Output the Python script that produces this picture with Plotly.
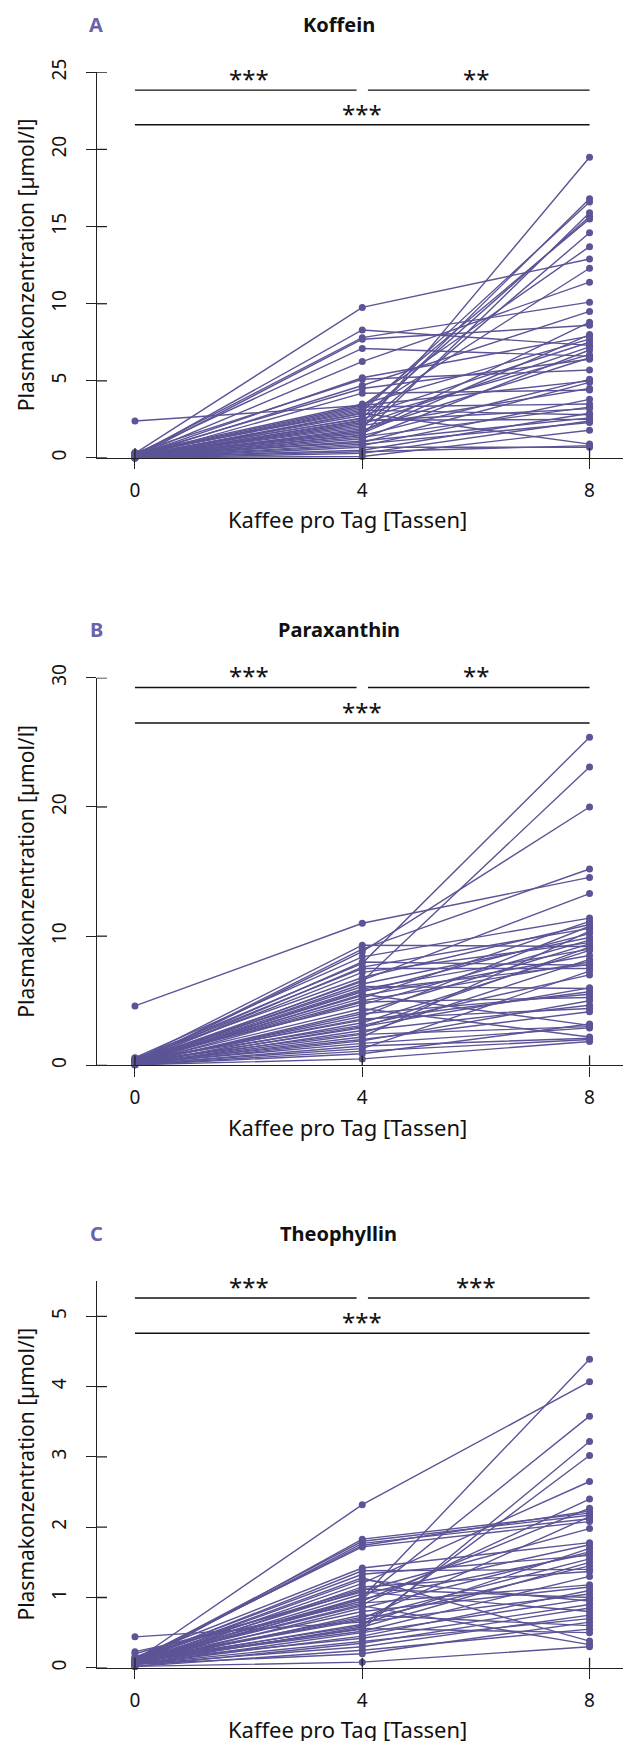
import plotly.graph_objects as go

# ---------------- data ----------------
cups = [0, 4, 8]

koffein_0 = [2.4, 0.3, 0.1, 0.2, 0.05, 0.25, 0.1, 0.15, 0.35, 0.1, 0.2, 0.05, 0.0, 0.1, 0.3, 0.05,
             0.15, 0.2, 0.1, 0.25, 0.05, 0.1, 0.3, 0.15, 0.1, 0.0, 0.2, 0.1, 0.05, 0.15, 0.1, 0.05,
             0.2, 0.0, 0.1, 0.05, 0.25, 0.05, 0.1, 0.0, 0.05, 0.02, 0.15, 0.05, 0.02, 0.1]
koffein_4 = [3.4, 9.76, 8.3, 7.8, 7.7, 7.1, 6.25, 5.2, 5.1, 4.7, 4.5, 4.2, 1.9, 2.3, 3.0, 1.5,
             2.6, 3.2, 2.0, 3.4, 2.9, 1.7, 3.5, 2.75, 2.2, 1.25, 2.55, 1.8, 1.45, 1.0, 2.1, 0.8,
             3.3, 1.35, 2.4, 0.5, 3.1, 1.1, 2.45, 0.3, 0.9, 0.1, 2.9, 0.4, 0.7, 1.6]
koffein_8 = [5.0, 12.9, 7.3, 10.1, 8.6, 6.6, 11.4, 7.9, 5.7, 9.5, 6.4, 4.4, 19.5, 16.8, 16.6, 15.9,
             15.65, 15.5, 14.6, 13.7, 12.3, 8.8, 7.7, 7.5, 7.2, 7.0, 6.7, 6.5, 5.1, 4.9, 4.5, 3.8,
             3.5, 3.3, 3.2, 2.9, 2.8, 2.6, 2.5, 2.4, 2.3, 1.8, 0.9, 0.8, 0.7, 8.0]

paraxanthin_0 = [4.6, 0.5, 0.3, 0.2, 0.4, 0.2, 0.6, 0.3, 0.2, 0.45, 0.1, 0.2, 0.35, 0.2, 0.1, 0.3,
                 0.25, 0.1, 0.5, 0.2, 0.1, 0.2, 0.3, 0.1, 0.4, 0.2, 0.05, 0.3, 0.1, 0.2, 0.15, 0.1,
                 0.05, 0.05, 0.3, 0.25, 0.1, 0.2, 0.1, 0.05, 0.55, 0.3, 0.2, 0.1, 0.1, 0.05]
paraxanthin_4 = [11.0, 7.9, 6.5, 8.8, 9.3, 9.0, 8.4, 8.0, 7.6, 7.5, 6.6, 6.3, 6.1, 5.7, 5.5, 5.4,
                 5.2, 4.9, 4.7, 4.4, 4.15, 3.8, 3.5, 3.3, 3.1, 2.9, 2.7, 2.5, 2.2, 2.0, 1.7, 1.3,
                 1.1, 0.5, 5.9, 5.0, 4.0, 3.6, 2.4, 1.5, 6.8, 7.2, 5.8, 3.0, 1.9, 0.9]
paraxanthin_8 = [14.55, 25.4, 23.1, 20.0, 9.2, 15.2, 11.4, 7.75, 10.6, 7.5, 13.3, 9.9, 5.95, 10.2, 3.1, 8.5,
                 11.15, 5.25, 9.7, 2.2, 9.4, 10.77, 5.7, 8.9, 7.0, 9.15, 4.65, 8.2, 10.4, 4.15, 2.9, 7.3,
                 2.0, 1.85, 9.0, 8.0, 5.5, 4.4, 3.0, 2.1, 10.9, 9.5, 7.8, 6.0, 5.0, 3.2]

theophyllin_0 = [0.1, 0.05, 0.1, 0.08, 0.1, 0.12, 0.1, 0.05, 0.1, 0.1, 0.08, 0.1, 0.15, 0.1, 0.12, 0.1,
                 0.05, 0.1, 0.08, 0.1, 0.05, 0.1, 0.44, 0.1, 0.05, 0.1, 0.05, 0.02, 0.05, 0.02, 0.23, 0.1,
                 0.1, 0.08, 0.05, 0.1, 0.05, 0.15, 0.1, 0.12, 0.05, 0.02, 0.05, 0.1, 0.2, 0.08]
theophyllin_4 = [2.32, 1.83, 1.8, 1.77, 1.74, 1.72, 1.0, 0.98, 0.55, 0.6, 1.2, 0.9, 1.42, 1.38, 1.33, 1.28,
                 1.15, 1.1, 1.05, 0.95, 0.85, 0.8, 0.65, 0.72, 0.5, 0.42, 0.38, 0.25, 0.2, 0.08, 0.92, 0.88,
                 0.7, 0.62, 0.58, 0.52, 0.45, 1.12, 1.25, 0.98, 0.75, 0.35, 0.3, 0.68, 1.08, 0.56]
theophyllin_8 = [4.07, 2.2, 2.17, 2.12, 2.23, 2.08, 4.39, 3.58, 3.22, 3.02, 2.65, 2.4, 1.78, 1.4, 1.6, 0.38,
                 1.37, 1.98, 1.75, 2.27, 1.65, 1.15, 1.05, 1.55, 0.98, 0.9, 0.7, 0.55, 0.65, 0.3, 1.18, 0.33,
                 2.15, 1.7, 1.5, 1.3, 1.1, 1.0, 0.95, 1.62, 0.6, 0.85, 0.75, 1.45, 0.8, 0.5]

panel_letters = ["A", "B", "C"]
panel_titles = ["Koffein", "Paraxanthin", "Theophyllin"]
y_ranges = [[0, 25], [0, 30], [0, 5.5]]
y_ticks = [[0, 5, 10, 15, 20, 25], [0, 10, 20, 30], [0, 1, 2, 3, 4, 5]]
x_ticks = [0, 4, 8]

# significance brackets: (x start, x end, label x)
sig_pairs = [(0, 3.9, 2), (4.1, 8, 6), (0, 8, 4)]
sig_labels = [["***", "**", "***"], ["***", "**", "***"], ["***", "***", "***"]]
sig_levels = [[23.85, 23.85, 21.6], [29.25, 29.25, 26.5], [5.26, 5.26, 4.76]]

x_title = "Kaffee pro Tag [Tassen]"
y_title = "Plasmakonzentration [µmol/l]"

series = [
    (koffein_0, koffein_4, koffein_8),
    (paraxanthin_0, paraxanthin_4, paraxanthin_8),
    (theophyllin_0, theophyllin_4, theophyllin_8),
]

# ---------------- styling / layout ----------------
W, H = 631, 1741
PURPLE = "#5b5496"
LETTER = "#6b63a8"
AX = "#222222"
FONT = "Noto Sans"


# wanted positions are given in page pixels; convert to figure pixels
def fx(x):
    return x - 7.5


def fy(y):
    return (y - 19.6) / 0.9912


LEFT = fx(96)
PW = W - LEFT
X0_PX, X8_PX = fx(134), fx(589)
ppu = (X8_PX - X0_PX) / 8.0
x_range = [-(X0_PX - LEFT) / ppu, (W - X0_PX) / ppu]

tops = [70, 676, 1280]
bottoms = [456, 1064, 1667]

fig = go.Figure()
shapes = []
annotations = []
layout = {}


def px_to_paper_x(x):
    return (x - LEFT) / PW


def px_to_paper_y(y):
    return (H - y) / H


for i in range(3):
    n = "" if i == 0 else str(i + 1)
    xa, ya = "x" + n, "y" + n
    v0, v4, v8 = series[i]
    xs, ys = [], []
    for a, b, c in zip(v0, v4, v8):
        xs += cups + [None]
        ys += [a, b, c, None]
    fig.add_trace(go.Scatter(
        x=xs, y=ys, xaxis=xa, yaxis=ya, mode="lines+markers",
        line=dict(color=PURPLE, width=1.4),
        marker=dict(color=PURPLE, size=7),
        cliponaxis=False, showlegend=False, hoverinfo="skip"))

    dom = [px_to_paper_y(fy(bottoms[i])), px_to_paper_y(fy(tops[i]))]
    layout["xaxis" + n] = dict(
        domain=[0, 1], range=x_range, anchor=ya, tickvals=x_ticks,
        ticks="outside", ticklen=10, tickwidth=1.3, tickcolor=AX,
        showline=True, linecolor=AX, linewidth=1.3, showgrid=False, zeroline=False,
        tickfont=dict(size=19, color="#111", family=FONT), ticklabelstandoff=5,
    )
    layout["yaxis" + n] = dict(
        domain=dom, range=y_ranges[i], anchor=xa, tickvals=y_ticks[i], tickangle=-90,
        ticks="outside", ticklen=10, tickwidth=1.3, tickcolor=AX,
        showline=True, linecolor=AX, linewidth=1.3, showgrid=False, zeroline=False,
        tickfont=dict(size=19, color="#111", family=FONT), ticklabelstandoff=12,
    )
    # inner halves of the crossing tick marks
    for v in x_ticks:
        shapes.append(dict(type="line", xref=xa, yref=ya + " domain", x0=v, x1=v,
                           ysizemode="pixel", yanchor=0, y0=0, y1=10,
                           line=dict(color=AX, width=1.3)))
    for v in y_ticks[i]:
        shapes.append(dict(type="line", yref=ya, xref=xa + " domain", y0=v, y1=v,
                           xsizemode="pixel", xanchor=0, x0=0, x1=10,
                           line=dict(color=AX, width=1.3)))
    # significance brackets
    for (xs0, xs1, xm), lab, lev in zip(sig_pairs, sig_labels[i], sig_levels[i]):
        shapes.append(dict(type="line", xref=xa, yref=ya, x0=xs0, x1=xs1, y0=lev, y1=lev,
                           line=dict(color="#111", width=1.4)))
        annotations.append(dict(xref=xa, yref=ya, x=xm, y=lev, text=lab, showarrow=False,
                                yanchor="middle", yshift=11.5,
                                font=dict(size=24, color="#111", family=FONT)))
    # panel letter and title
    ty = px_to_paper_y(fy(tops[i] - 48))
    annotations.append(dict(xref="paper", yref="paper", x=px_to_paper_x(fx(95)), y=ty,
                            text="<b>%s</b>" % panel_letters[i], showarrow=False,
                            xanchor="center", yanchor="middle",
                            font=dict(size=20, color=LETTER, family=FONT)))
    annotations.append(dict(xref="paper", yref="paper", x=px_to_paper_x(fx(338)), y=ty,
                            text="<b>%s</b>" % panel_titles[i], showarrow=False,
                            xanchor="center", yanchor="middle",
                            font=dict(size=20, color="#111", family=FONT)))
    # x-axis title (centred like the original plot region, not the cropped axis)
    annotations.append(dict(xref="paper", yref=ya + " domain", x=px_to_paper_x(fx(347)), y=0,
                            text=x_title, showarrow=False, xanchor="center", yanchor="middle",
                            yshift=-61.5, font=dict(size=22, color="#111", family=FONT)))
    # y-axis title
    annotations.append(dict(xref="paper", yref="paper", x=px_to_paper_x(fx(25)),
                            y=(dom[0] + dom[1]) / 2, text=y_title, textangle=-90,
                            showarrow=False, xanchor="center", yanchor="middle",
                            font=dict(size=21, color="#111", family=FONT)))

fig.update_layout(
    width=W, height=H, margin=dict(l=LEFT, r=0, t=0, b=0),
    paper_bgcolor="white", plot_bgcolor="white",
    font=dict(family=FONT, color="#111"),
    shapes=shapes, annotations=annotations, showlegend=False,
    **layout,
)

fig.write_html("out.html")
